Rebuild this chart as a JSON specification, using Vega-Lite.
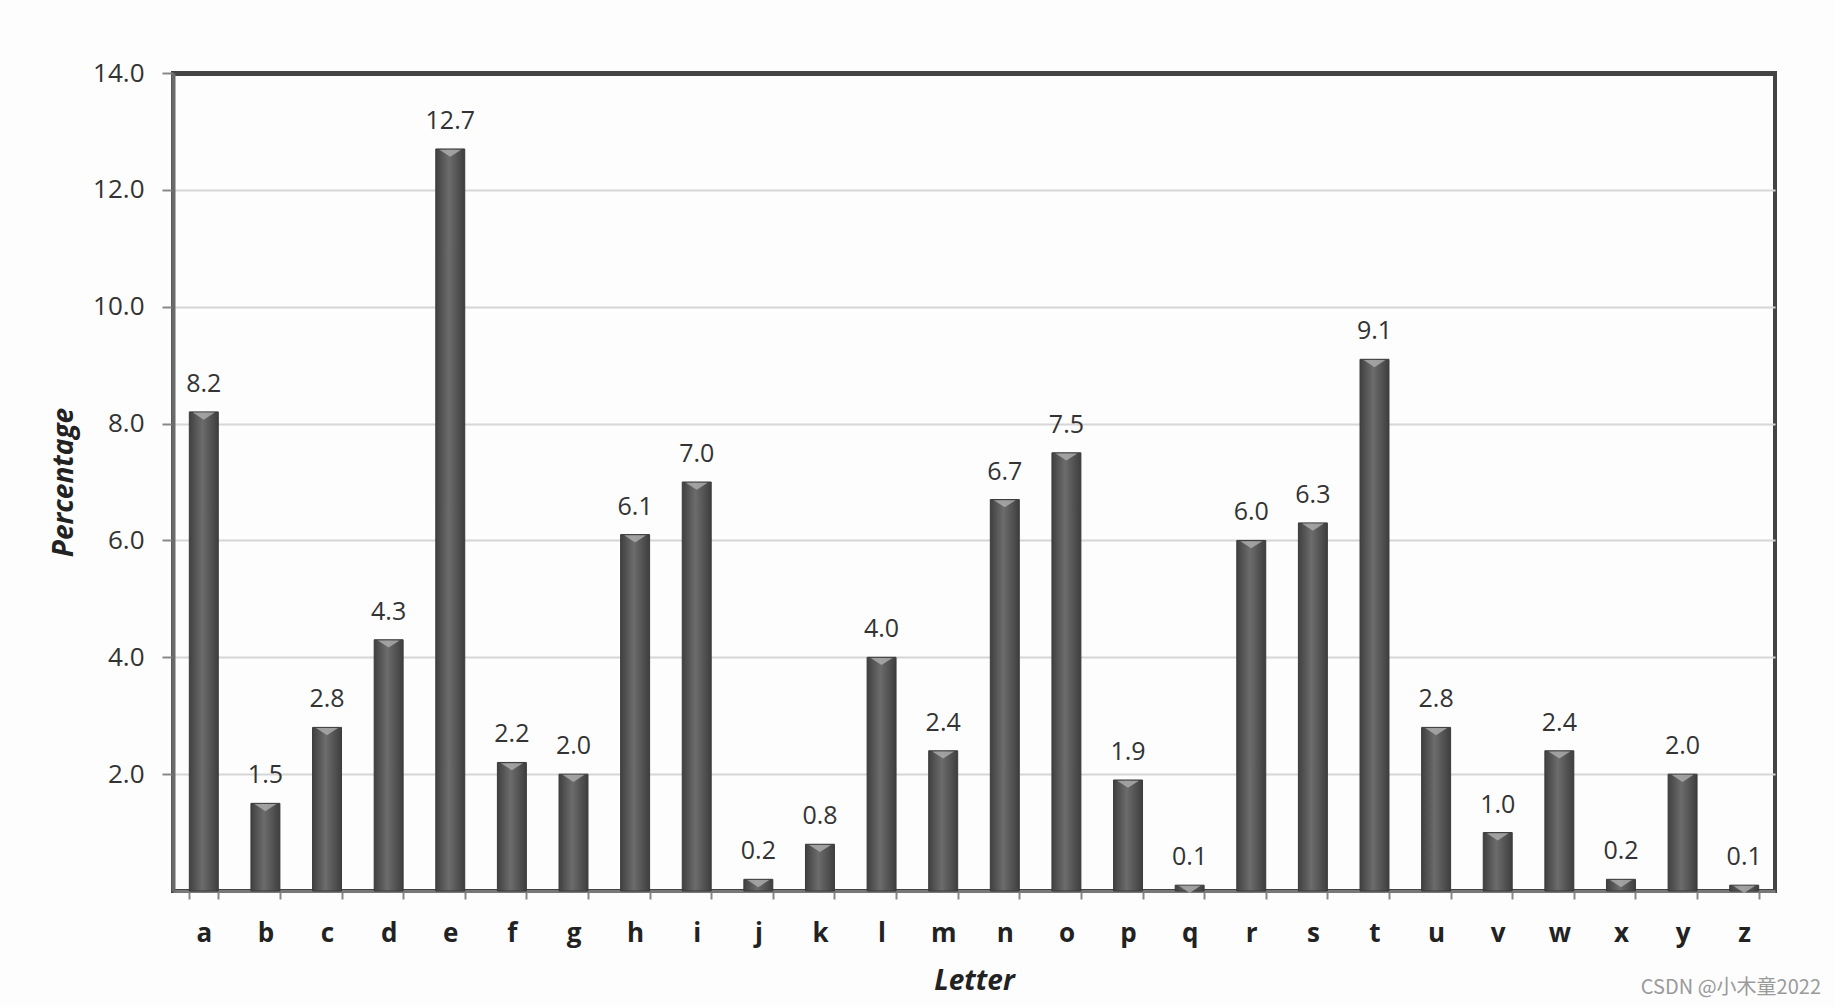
{
  "$schema": "https://vega.github.io/schema/vega-lite/v6.json",
  "width": 1602,
  "height": 818,
  "autosize": {"type": "none"},
  "padding": {"left": 173, "top": 73, "right": 60, "bottom": 116},
  "background": "#fdfdfd",
  "config": {
    "font": "Open Sans",
    "view": {"stroke": "#444444", "strokeWidth": 4}
  },
  "title": {
    "text": "CSDN @小木童2022",
    "orient": "bottom",
    "anchor": "end",
    "font": "Noto Sans CJK SC",
    "fontSize": 20,
    "fontWeight": "normal",
    "color": "#9a9a9a",
    "offset": -17,
    "dx": 46
  },
  "data": {
    "values": [
      {"letter": "a", "pct": 8.2},
      {"letter": "b", "pct": 1.5},
      {"letter": "c", "pct": 2.8},
      {"letter": "d", "pct": 4.3},
      {"letter": "e", "pct": 12.7},
      {"letter": "f", "pct": 2.2},
      {"letter": "g", "pct": 2.0},
      {"letter": "h", "pct": 6.1},
      {"letter": "i", "pct": 7.0},
      {"letter": "j", "pct": 0.2},
      {"letter": "k", "pct": 0.8},
      {"letter": "l", "pct": 4.0},
      {"letter": "m", "pct": 2.4},
      {"letter": "n", "pct": 6.7},
      {"letter": "o", "pct": 7.5},
      {"letter": "p", "pct": 1.9},
      {"letter": "q", "pct": 0.1},
      {"letter": "r", "pct": 6.0},
      {"letter": "s", "pct": 6.3},
      {"letter": "t", "pct": 9.1},
      {"letter": "u", "pct": 2.8},
      {"letter": "v", "pct": 1.0},
      {"letter": "w", "pct": 2.4},
      {"letter": "x", "pct": 0.2},
      {"letter": "y", "pct": 2.0},
      {"letter": "z", "pct": 0.1}
    ]
  },
  "encoding": {
    "x": {
      "field": "letter",
      "type": "nominal",
      "sort": null,
      "scale": {"paddingInner": 0.53, "paddingOuter": 0.265},
      "axis": {
        "title": "Letter",
        "titleFont": "Open Sans",
        "titleFontSize": 28,
        "titleFontWeight": "bold",
        "titleFontStyle": "italic",
        "titleColor": "#222222",
        "titlePadding": 21,
        "labelAngle": 0,
        "labelFont": "Open Sans",
        "labelFontSize": 26,
        "labelFontWeight": "bold",
        "labelColor": "#222222",
        "labelPadding": 21,
        "domainColor": "#777777",
        "domainWidth": 3,
        "tickColor": "#888888",
        "tickWidth": 2,
        "tickSize": 8,
        "tickBand": "extent",
        "grid": false
      }
    },
    "y": {
      "field": "pct",
      "type": "quantitative",
      "scale": {"domain": [0, 14], "nice": false},
      "axis": {
        "title": "Percentage",
        "titleFont": "Open Sans",
        "titleFontSize": 28,
        "titleFontWeight": "bold",
        "titleFontStyle": "italic",
        "titleColor": "#222222",
        "titlePadding": 14,
        "values": [2, 4, 6, 8, 10, 12, 14],
        "format": ".1f",
        "labelFont": "Open Sans",
        "labelFontSize": 26,
        "labelColor": "#333333",
        "labelPadding": 18,
        "domainColor": "#6a6a6a",
        "domainWidth": 4,
        "tickColor": "#888888",
        "tickWidth": 2,
        "tickSize": 11,
        "grid": true,
        "gridColor": {"condition": {"test": "datum.value === 14", "value": "#444444"}, "value": "#d6d6d6"},
        "gridWidth": {"condition": {"test": "datum.value === 14", "value": 5}, "value": 2}
      }
    }
  },
  "layer": [
    {
      "mark": {
        "type": "bar",
        "color": {
          "gradient": "linear",
          "x1": 0, "x2": 1, "y1": 0, "y2": 0,
          "stops": [
            {"offset": 0, "color": "#404040"},
            {"offset": 0.45, "color": "#6c6c6c"},
            {"offset": 1, "color": "#3e3e3e"}
          ]
        },
        "stroke": "#3a3a3a",
        "strokeWidth": 1
      }
    },
    {
      "mark": {
        "type": "point",
        "shape": "M-1,-0.3L1,-0.3L0,0.35Z",
        "filled": true,
        "color": "#b4b4b4",
        "opacity": 0.75,
        "size": 480,
        "yOffset": 4
      }
    },
    {
      "mark": {
        "type": "text",
        "font": "Open Sans",
        "fontSize": 25,
        "color": "#333333",
        "baseline": "middle",
        "dy": -28
      },
      "encoding": {
        "text": {"field": "pct", "type": "quantitative", "format": ".1f"}
      }
    }
  ]
}
